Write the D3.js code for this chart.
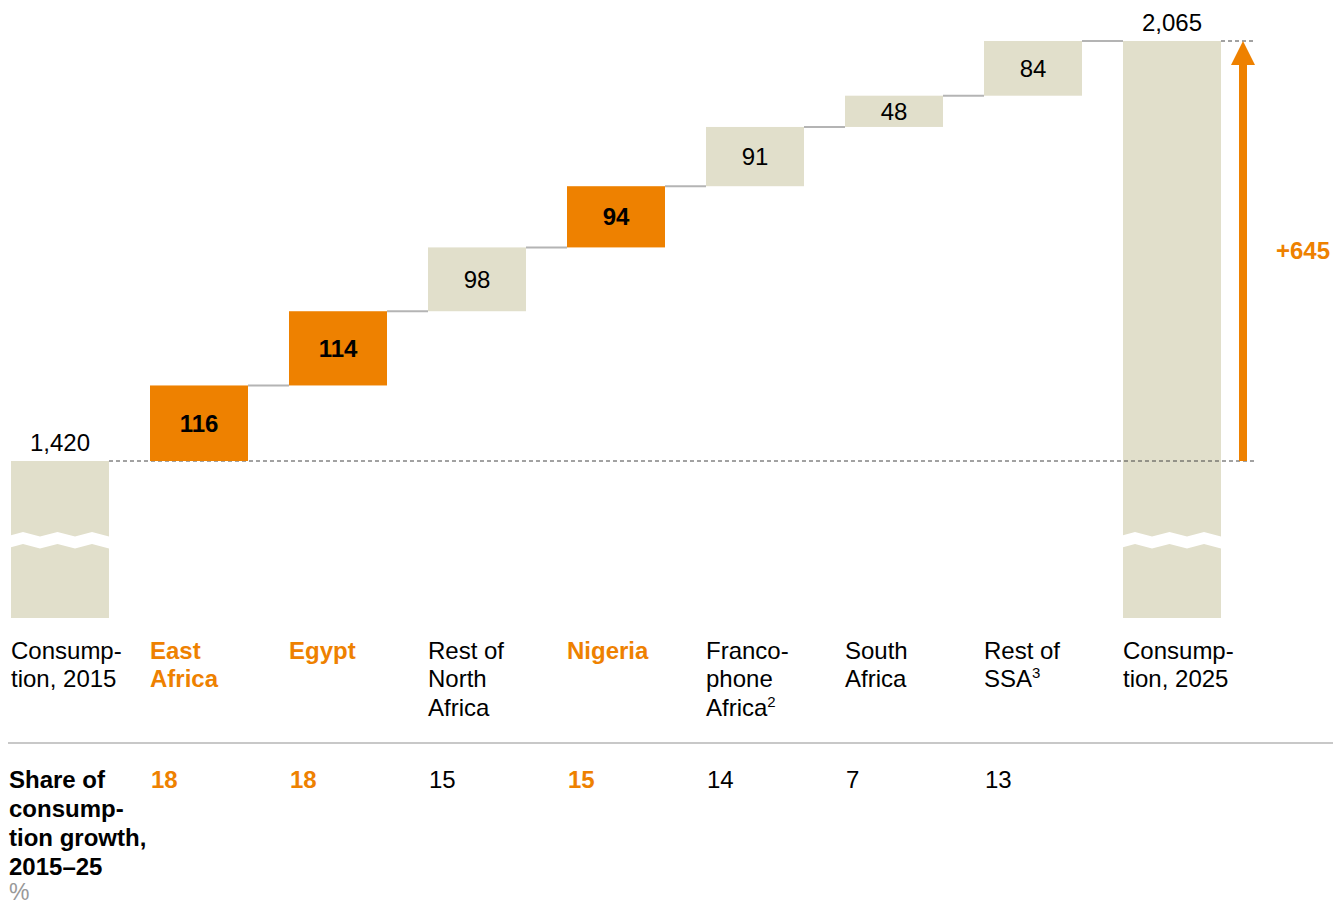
<!DOCTYPE html>
<html>
<head>
<meta charset="utf-8">
<script src="https://cdn.jsdelivr.net/npm/d3@7"></script>
<style>
  html, body { margin: 0; padding: 0; background: #fff; }
  svg { display: block; font-family: "Liberation Sans", Arial, sans-serif; }
</style>
</head>
<body>
<svg id="chart" width="1341" height="906"></svg>
<script>
// ---- data ----
const categories = ["Consumption, 2015", "East Africa", "Egypt", "Rest of North Africa", "Nigeria",
  "Francophone Africa", "South Africa", "Rest of SSA", "Consumption, 2025"];
const labelLines = [
  ["Consump-", "tion, 2015"],
  ["East", "Africa"],
  ["Egypt"],
  ["Rest of", "North", "Africa"],
  ["Nigeria"],
  ["Franco-", "phone", "Africa|2"],
  ["South", "Africa"],
  ["Rest of", "SSA|3"],
  ["Consump-", "tion, 2025"]
];
const startValue = 1420;
const deltas = [116, 114, 98, 94, 91, 48, 84];
const endValue = 2065;
const highlighted = [false, true, true, false, true, false, false, false, false];
const shares = [null, "18", "18", "15", "15", "14", "7", "13", null];
const totalGrowthLabel = "+645";
const shareTitle = ["Share of", "consump-", "tion growth,", "2015–25"];
const shareUnit = "%";

// ---- styling ----
const ORANGE = "#EE8100";
const BEIGE = "#E1DFCB";
const FONT = 24;

const svg = d3.select("#chart");

const x = d3.scaleBand().domain(categories).range([11, 1221]).paddingInner(0.295).paddingOuter(0);
const y = d3.scaleLinear().domain([startValue, endValue]).range([461, 41]);
const baseY = 618;     // bottom of the broken total bars
const breakTop = 532;  // top of the zig-zag break
const bw = x.bandwidth();

// build waterfall rows
const rows = [];
let cum = startValue;
rows.push({cat: categories[0], y0: null, y1: startValue, label: d3.format(",")(startValue), total: true});
deltas.forEach((d, i) => {
  rows.push({cat: categories[i + 1], y0: cum, y1: cum + d, label: String(d), total: false, hi: highlighted[i + 1]});
  cum += d;
});
rows.push({cat: categories[8], y0: null, y1: endValue, label: d3.format(",")(endValue), total: true});

// total bars
const totals = rows.filter(r => r.total);
svg.selectAll("rect.total").data(totals).join("rect")
  .attr("x", d => x(d.cat)).attr("width", bw)
  .attr("y", d => y(d.y1)).attr("height", d => baseY - y(d.y1))
  .attr("fill", BEIGE);

// zig-zag break
totals.forEach(d => {
  const l = x(d.cat);
  const offs = [-5, 12, 29, 46.5, 64, 81, 98, 115];
  const top = offs.map((o, i) => [l + o, breakTop + (i % 2 === 0 ? 4.5 : 0)]);
  const bot = top.map(p => [p[0], p[1] + 12]).reverse();
  svg.append("clipPath").attr("id", "clip" + Math.round(l))
    .append("rect").attr("x", l).attr("y", 0).attr("width", bw).attr("height", 906);
  svg.append("polygon")
    .attr("clip-path", `url(#clip${Math.round(l)})`)
    .attr("points", top.concat(bot).map(p => p.join(",")).join(" "))
    .attr("fill", "#fff");
});

// dashed baseline and top line
svg.append("line")
  .attr("x1", x(categories[0]) + bw).attr("x2", 1255)
  .attr("y1", y(startValue)).attr("y2", y(startValue))
  .attr("stroke", "#444").attr("stroke-width", 1).attr("stroke-dasharray", "4,3");
svg.append("line")
  .attr("x1", x(categories[8]) + bw).attr("x2", 1255)
  .attr("y1", y(endValue)).attr("y2", y(endValue))
  .attr("stroke", "#444").attr("stroke-width", 1).attr("stroke-dasharray", "4,3");

// connectors
for (let i = 1; i < rows.length - 1; i++) {
  const r = rows[i];
  svg.append("line")
    .attr("x1", x(r.cat) + bw).attr("x2", x(rows[i + 1].cat))
    .attr("y1", y(r.y1)).attr("y2", y(r.y1))
    .attr("stroke", "#B4B4B4").attr("stroke-width", 2);
}

// delta bars
const steps = rows.filter(r => !r.total);
svg.selectAll("rect.step").data(steps).join("rect")
  .attr("x", d => x(d.cat)).attr("width", bw)
  .attr("y", d => y(d.y1)).attr("height", d => y(d.y0) - y(d.y1))
  .attr("fill", d => d.hi ? ORANGE : BEIGE);

svg.selectAll("text.step").data(steps).join("text")
  .attr("x", d => x(d.cat) + bw / 2)
  .attr("y", d => (y(d.y0) + y(d.y1)) / 2 + FONT * 0.35)
  .attr("text-anchor", "middle")
  .attr("font-size", FONT)
  .attr("font-weight", d => d.hi ? "bold" : "normal")
  .attr("fill", "#000")
  .text(d => d.label);

svg.selectAll("text.total").data(totals).join("text")
  .attr("x", d => x(d.cat) + bw / 2)
  .attr("y", d => y(d.y1) - 10)
  .attr("text-anchor", "middle")
  .attr("font-size", FONT)
  .attr("fill", "#000")
  .text(d => d.label);

// growth arrow
const ax = 1243;
svg.append("rect")
  .attr("x", ax - 4).attr("width", 8)
  .attr("y", y(endValue) + 22).attr("height", y(startValue) - y(endValue) - 22)
  .attr("fill", ORANGE);
svg.append("polygon")
  .attr("points", [[ax - 12, y(endValue) + 24], [ax + 12, y(endValue) + 24], [ax, y(endValue)]].map(p => p.join(",")).join(" "))
  .attr("fill", ORANGE);
svg.append("text")
  .attr("x", 1276).attr("y", (y(startValue) + y(endValue)) / 2 + FONT * 0.35)
  .attr("font-size", FONT).attr("font-weight", "bold").attr("fill", ORANGE)
  .text(totalGrowthLabel);

// category labels
categories.forEach((c, i) => {
  const t = svg.append("text")
    .attr("x", x(c)).attr("y", 659)
    .attr("font-size", FONT)
    .attr("font-weight", highlighted[i] ? "bold" : "normal")
    .attr("fill", highlighted[i] ? ORANGE : "#000");
  labelLines[i].forEach((line, j) => {
    const parts = line.split("|");
    t.append("tspan").attr("x", x(c)).attr("y", 659 + j * 28.3).text(parts[0]);
    if (parts[1]) {
      t.append("tspan").attr("font-size", 15).attr("dy", -9).text(parts[1]);
    }
  });
});

// separator
svg.append("line").attr("x1", 8).attr("x2", 1333).attr("y1", 743).attr("y2", 743)
  .attr("stroke", "#C8C8C8").attr("stroke-width", 2);

// share row
const st = svg.append("text").attr("x", 9).attr("font-size", FONT).attr("font-weight", "bold").attr("fill", "#000");
shareTitle.forEach((l, j) => st.append("tspan").attr("x", 9).attr("y", 788 + j * 29).text(l));
svg.append("text").attr("x", 9).attr("y", 900).attr("font-size", FONT - 1).attr("fill", "#999").text(shareUnit);

categories.forEach((c, i) => {
  if (!shares[i]) return;
  svg.append("text")
    .attr("x", x(c) + 1).attr("y", 788)
    .attr("font-size", FONT)
    .attr("font-weight", highlighted[i] ? "bold" : "normal")
    .attr("fill", highlighted[i] ? ORANGE : "#000")
    .text(shares[i]);
});
</script>
</body>
</html>
